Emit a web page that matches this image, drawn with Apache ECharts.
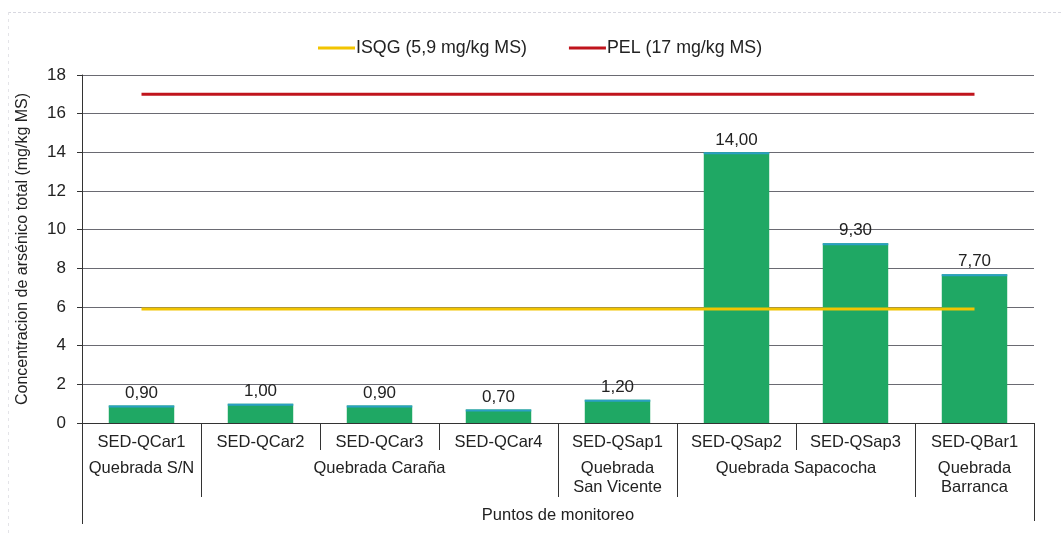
<!DOCTYPE html>
<html>
<head>
<meta charset="utf-8">
<script src="https://cdn.jsdelivr.net/npm/echarts@6/dist/echarts.min.js"></script>
<style>
  html, body { margin: 0; padding: 0; background: #fff; }
  #chart { width: 1062px; height: 536px; }
</style>
</head>
<body>
<div id="chart"></div>
<script>
// Monitoring points (sampling stations)
const stations = ['SED-QCar1', 'SED-QCar2', 'SED-QCar3', 'SED-QCar4', 'SED-QSap1', 'SED-QSap2', 'SED-QSap3', 'SED-QBar1'];
// Total arsenic concentration, mg/kg dry matter
const arsenic = [0.90, 1.00, 0.90, 0.70, 1.20, 14.00, 9.30, 7.70];
// Sediment quality guideline values
const isqg = [5.9, 5.9, 5.9, 5.9, 5.9, 5.9, 5.9, 5.9];
const pel = [17, 17, 17, 17, 17, 17, 17, 17];
// Streams: label, first station index, last station index
const streams = [
  ['Quebrada S/N', 0, 0],
  ['Quebrada Caraña', 1, 3],
  ['Quebrada\nSan Vicente', 4, 4],
  ['Quebrada Sapacocha', 5, 6],
  ['Quebrada\nBarranca', 7, 7]
];
const yTicks = [0, 2, 4, 6, 8, 10, 12, 14, 16, 18];

const FONT = '"Liberation Sans", Arial, sans-serif';
const chart = echarts.init(document.getElementById('chart'));

const grid = { left: 82, right: 28, top: 75, bottom: 113 };

chart.setOption({
  animation: false,
  textStyle: { fontFamily: FONT },
  grid: grid,
  legend: {
    top: 34,
    left: 313,
    itemWidth: 37,
    itemHeight: 3,
    itemGap: 42,
    icon: 'rect',
    textStyle: { fontSize: 17.8, color: '#222', fontFamily: FONT, padding: [0, 0, 0, -4] },
    data: ['ISQG (5,9 mg/kg MS)', 'PEL (17 mg/kg MS)']
  },
  xAxis: {
    type: 'category',
    data: stations,
    boundaryGap: true,
    axisLine: { show: true, lineStyle: { color: '#333', width: 1 } },
    axisTick: { show: false },
    axisLabel: { fontSize: 16.5, color: '#222', margin: 11, fontFamily: FONT },
    name: 'Puntos de monitoreo',
    nameLocation: 'middle',
    nameGap: 84,
    nameTextStyle: { fontSize: 16.5, color: '#222', fontFamily: FONT }
  },
  yAxis: {
    type: 'value',
    min: yTicks[0],
    max: yTicks[yTicks.length - 1],
    interval: 2,
    axisLine: { show: true, lineStyle: { color: '#333', width: 1 } },
    axisTick: { show: true, length: 5, lineStyle: { color: '#333' } },
    axisLabel: { fontSize: 17, color: '#222', margin: 16, fontFamily: FONT },
    splitLine: { show: true, lineStyle: { color: '#6a6a72', width: 1 } },
    name: 'Concentracion de arsénico total (mg/kg MS)',
    nameLocation: 'middle',
    nameGap: 51,
    nameTextStyle: { fontSize: 16, color: '#222', fontFamily: FONT }
  },
  series: [
    {
      name: 'Concentración',
      type: 'bar',
      data: arsenic,
      barWidth: '55%',
      z: 2,
      itemStyle: { color: '#1fa864' },
      label: {
        show: true,
        position: 'top',
        distance: 4,
        fontSize: 17,
        color: '#222',
        fontFamily: FONT,
        formatter: p => p.value.toFixed(2).replace('.', ',')
      }
    },
    {
      name: 'ISQG (5,9 mg/kg MS)',
      type: 'line',
      data: isqg,
      symbol: 'none',
      z: 5,
      color: '#f2c400',
      lineStyle: { color: '#f2c400', width: 3 }
    },
    {
      name: 'PEL (17 mg/kg MS)',
      type: 'line',
      data: pel,
      symbol: 'none',
      z: 5,
      color: '#c0141c',
      lineStyle: { color: '#c0141c', width: 3 }
    }
  ]
});

// Bar top edges, group separators and stream labels
function drawExtras() {
  const g = [];
  const y0 = chart.convertToPixel({ yAxisIndex: 0 }, 0);
  const c0 = chart.convertToPixel({ xAxisIndex: 0 }, 0);
  const c1 = chart.convertToPixel({ xAxisIndex: 0 }, 1);
  const step = c1 - c0;
  const bound = i => c0 - step / 2 + i * step;
  const barW = step * 0.55;

  // thin bluish cap on each bar
  arsenic.forEach((v, i) => {
    const x = chart.convertToPixel({ xAxisIndex: 0 }, i);
    const y = chart.convertToPixel({ yAxisIndex: 0 }, v);
    g.push({ type: 'rect', z: 3, shape: { x: x - barW / 2, y: y, width: barW, height: 2 }, style: { fill: '#2b9fc4' } });
  });

  // boundaries where a new stream starts
  const groupStarts = new Set(streams.map(s => s[1]));
  for (let i = 0; i <= stations.length; i++) {
    let len;
    if (i === 0) len = 101;
    else if (i === stations.length) len = 98;
    else if (groupStarts.has(i)) len = 74;
    else len = 27;
    const x = Math.round(bound(i)) + 0.5;
    g.push({ type: 'line', z: 3, shape: { x1: x, y1: y0, x2: x, y2: y0 + len }, style: { stroke: '#333', lineWidth: 1 } });
  }

  streams.forEach(([name, a, b]) => {
    const cx = (chart.convertToPixel({ xAxisIndex: 0 }, a) + chart.convertToPixel({ xAxisIndex: 0 }, b)) / 2;
    g.push({
      type: 'text', z: 3,
      x: cx, y: y0 + 36,
      style: { text: name, fill: '#222', font: '16.5px ' + FONT, align: 'center', verticalAlign: 'top', lineHeight: 19 }
    });
  });

  // faint outer frame
  g.push({ type: 'line', z: 0, shape: { x1: 8, y1: 12.5, x2: 1062, y2: 12.5 }, style: { stroke: '#d8d8e0', lineWidth: 1, lineDash: [3, 2] } });
  g.push({ type: 'line', z: 0, shape: { x1: 8.5, y1: 12, x2: 8.5, y2: 536 }, style: { stroke: '#e4e4e8', lineWidth: 1, lineDash: [3, 4] } });

  chart.setOption({ graphic: g });
}
drawExtras();
</script>
</body>
</html>
